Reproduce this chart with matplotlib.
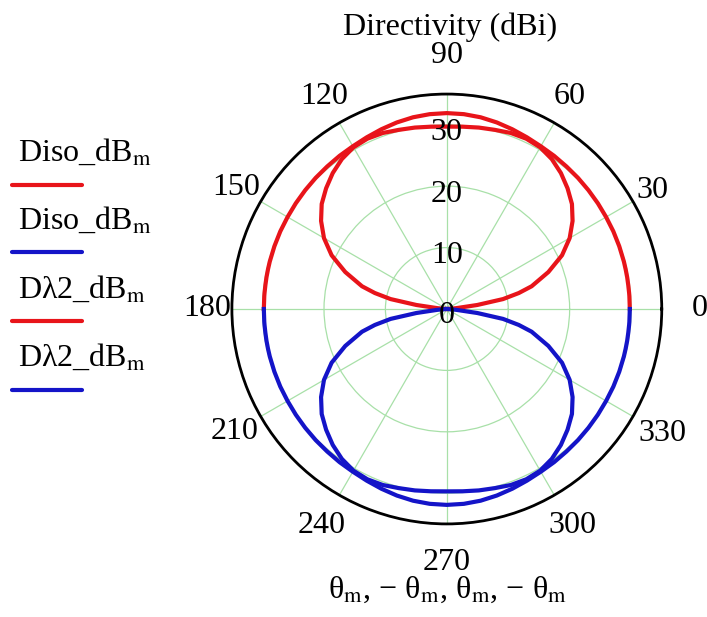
# Polar directivity plot (Mathcad style)
import numpy as np
import matplotlib.pyplot as plt
from matplotlib.lines import Line2D

plt.rcParams['font.family'] = ['Liberation Serif', 'DejaVu Serif']
plt.rcParams['mathtext.fontset'] = 'stix'

# angles (deg) for the upper half, blue traces use -theta
theta_deg = [0, 4, 5, 7.5, 10, 12.5, 15, 20, 25, 30, 35, 40, 45, 50, 55, 60, 65, 70,
             75, 80, 85, 90, 95, 100, 105, 110, 115, 120, 125, 130, 135, 140, 145,
             150, 155, 160, 165, 167.5, 170, 172.5, 175, 176, 180]

# (radial units)
diso_db = [29.8, 29.8, 29.8, 29.8, 29.82, 29.83, 29.85, 29.88, 29.92, 29.95, 30.02,
           30.1, 30.2, 30.3, 30.45, 30.6, 30.85, 31.15, 31.45, 31.7, 31.85, 31.9,
           31.85, 31.7, 31.45, 31.15, 30.85, 30.6, 30.45, 30.3, 30.2, 30.1, 30.02,
           29.95, 29.92, 29.88, 29.85, 29.83, 29.82, 29.8, 29.8, 29.8, 29.8]
dl2_db = [0.0, 0.0, 1.5, 5.0, 9.3, 12.0, 14.3, 17.6, 20.7, 23.1, 25.0, 26.6, 27.8,
          28.9, 29.8, 30.4, 30.6, 30.5, 30.2, 30.0, 29.8, 29.7,
          29.8, 30.0, 30.2, 30.5, 30.6, 30.4, 29.8, 28.9, 27.8, 26.6, 25.0, 23.1,
          20.7, 17.6, 14.3, 12.0, 9.3, 5.0, 1.5, 0.0, 0.0]

r_ticks = [10, 20, 30]
angle_labels = [0, 30, 60, 90, 120, 150, 180, 210, 240, 270, 300, 330]
label_r = [41.2, 38.6, 39.9, 41.2, 39.9, 39.6, 39.1, 39.9, 40.8, 41.3, 40.8, 40.5]

legend_names = ['Diso_dB$_{\\mathrm{m}}$', 'Diso_dB$_{\\mathrm{m}}$',
                'Dλ2_dB$_{\\mathrm{m}}$', 'Dλ2_dB$_{\\mathrm{m}}$']
red = '#e8141a'
blue = '#1414c8'
colors = [red, blue, red, blue]
fs = 23

fig = plt.figure(figsize=(7.07, 6.17), dpi=100)
ax = fig.add_axes([0.328, 0.1507, 0.608, 0.697], projection='polar')

th = np.radians(theta_deg)
ax.plot(th, diso_db, color=red, lw=3, zorder=3)
ax.plot(-th, diso_db, color=blue, lw=3, zorder=3)
ax.plot(th, dl2_db, color=red, lw=3, zorder=3)
ax.plot(-th, dl2_db, color=blue, lw=3, zorder=3)

ax.set_ylim(0, 35)
ax.set_thetagrids(angle_labels, labels=[''] * len(angle_labels))
ax.set_rgrids(r_ticks, labels=[''] * len(r_ticks))
ax.grid(True, color='#a8e0a8', lw=0.9)
ax.spines['polar'].set_color('black')
ax.spines['polar'].set_linewidth(2)

for a, rr in zip(angle_labels, label_r):
    ax.text(np.radians(a), rr, str(a), ha='center', va='center', fontsize=fs,
            clip_on=False)
for rt in r_ticks:
    ax.text(np.pi / 2, rt - 1.3, str(rt), ha='center', va='center', fontsize=fs,
            zorder=5)
ax.annotate('0', (0, 0), xytext=(0, -5), textcoords='offset points',
            ha='center', va='center', fontsize=fs, zorder=5)

fig.text(0.637, 1 - 27 / 617, 'Directivity (dBi)', ha='center', va='center',
         fontsize=fs)
fig.text(0.633, 1 - 590 / 617,
         'θ$_{\\mathrm{m}}$, − θ$_{\\mathrm{m}}$, θ$_{\\mathrm{m}}$, − θ$_{\\mathrm{m}}$',
         ha='center', va='center', fontsize=fs)

# legend on the left: name above a short line
text_y = [161, 229, 298, 366]
line_y = [185, 252, 321, 390]
for name, c, ty, ly in zip(legend_names, colors, text_y, line_y):
    fig.text(18 / 707, 1 - ty / 617, name, ha='left', va='baseline', fontsize=fs)
    fig.add_artist(Line2D([12 / 707, 82 / 707], [1 - ly / 617, 1 - ly / 617],
                          color=c, lw=3, solid_capstyle='round'))

fig.savefig('out.png', dpi=100)
